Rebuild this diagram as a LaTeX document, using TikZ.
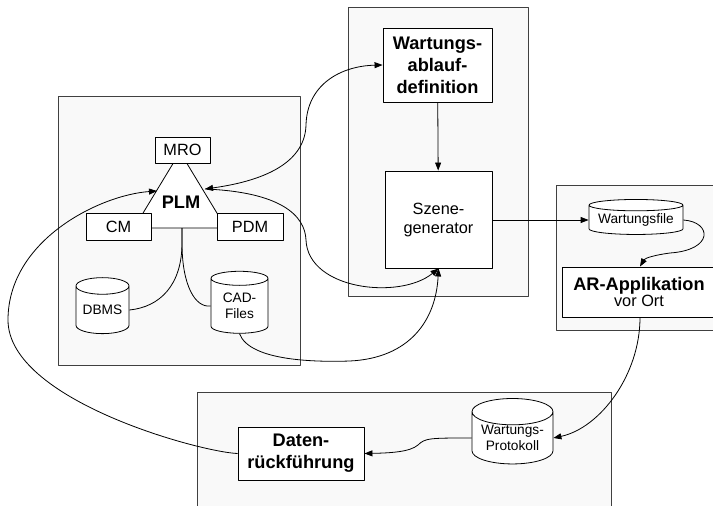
\documentclass[tikz,border=0pt]{standalone}
\usepackage{fontspec}
\setmainfont{Liberation Sans}
\usetikzlibrary{shapes.geometric,arrows.meta}
\definecolor{framefill}{HTML}{F9F9F9}
\definecolor{framedraw}{HTML}{404040}
\newcommand\smalltxt{\fontsize{13.7}{16}\selectfont}
\newcommand\normtxt{\fontsize{16.3}{19}\selectfont}
\newcommand\boldtxt{\fontsize{18.2}{22}\selectfont\bfseries}
\tikzset{
  frame/.style={draw=framedraw, fill=framefill, line width=1pt},
  box/.style={draw, fill=white, inner sep=0pt, align=center, line width=0.9pt},
  db/.style={cylinder, shape border rotate=90, draw, fill=white, inner sep=0pt,
    align=center, line width=0.8pt, font=\smalltxt},
}
\begin{document}
\begin{tikzpicture}[x=1pt, y=-1pt, line join=round, line width=0.8pt,
    >={Triangle[length=8pt,width=6pt]}]
\useasboundingbox (0,0) rectangle (713,506);
\clip (0,0) rectangle (713,506);
% frames
\draw[frame] (58,96) rectangle (300,365);
\draw[frame] (348,7) rectangle (528,296);
\draw[frame] (556,185) rectangle (730,330);
\draw[frame] (197,392) rectangle (611,530);
% PLM
\draw[fill=white] (180,152) -- (134,228) -- (226,228) -- cycle;
\node[font=\boldtxt] (plm) at (181,202) {PLM};
\coordinate (plmbase) at (182,228);
\coordinate (plmleft) at (157,191);
\coordinate (plmright) at (205,189);
\node[box, font=\normtxt, minimum width=55, minimum height=26] (mro) at (182.5,150) {MRO};
\node[box, font=\normtxt, minimum width=65, minimum height=27] (cm) at (118.5,226.5) {CM};
\node[box, font=\normtxt, minimum width=66, minimum height=27] (pdm) at (250,226.5) {PDM};
\node[db, aspect=0.42, minimum width=53, minimum height=56] (dbms) at (102.5,310) {DBMS};
\node[db, aspect=0.42, minimum width=57, minimum height=62] (cad) at (239.5,306) {CAD-\\Files};
\draw (plmbase) -- ++(0,15) .. controls (182,285) and (160,307) .. (dbms.east);
\draw (plmbase) -- ++(0,15) .. controls (182,285) and (195,308) .. (cad.west);
% Wartung
\node[box, font=\boldtxt, minimum width=109, minimum height=74] (ablauf) at (437.5,65) {Wartungs-\\ablauf-\\definition};
\node[box, font=\normtxt, minimum width=107, minimum height=97] (szene) at (438.5,219.5) {Szene-\\generator};
\draw[->] (ablauf) -- (szene);
% AR
\node[db, aspect=0.15, minimum width=94, minimum height=35] (wfile) at (636,220) {Wartungsfile};
\node[box, minimum width=153, minimum height=50] (ar) at (639,292) {{\boldtxt AR-Applikation}\\{\normtxt vor Ort}};
% Rueckfuehrung
\node[db, aspect=0.42, minimum width=81, minimum height=60] (proto) at (512.5,438) {Wartungs-\\Protokoll};
\node[box, font=\boldtxt, minimum width=126, minimum height=53] (daten) at (301,453.5) {Daten-\\rückführung};
% connectors
\draw[<->] (plmright) .. controls (270,180) and (305,160) .. (306,125)
  .. controls (307,85) and (340,66) .. (ablauf.west);
\draw[->] (plmright) .. controls (280,192) and (305,215) .. (306,240)
  .. controls (308,290) and (400,300) .. (szene.south);
\draw[->] (cad.south) .. controls (250,362) and (320,362) .. (350,361)
  .. controls (410,358) and (436,320) .. (szene.south);
\draw[->] (szene.east |- wfile.west) -- (wfile.west);
\draw[->] (wfile.east) .. controls (712,222) and (714,250) .. (670,253)
  .. controls (655,255) and (645,258) .. (ar.north -| 640,0);
\draw[->] (ar.south -| 640,0) .. controls (640,375) and (600,428) .. (proto.east);
\draw[->] (proto.west) .. controls (430,438) and (425,438) .. (418,445)
  .. controls (410,452) and (390,453) .. (daten.east);
\draw[->] (daten.west) .. controls (200,452) and (8,400) .. (8,320)
  .. controls (8,240) and (100,195) .. (plmleft);
\end{tikzpicture}
\end{document}
